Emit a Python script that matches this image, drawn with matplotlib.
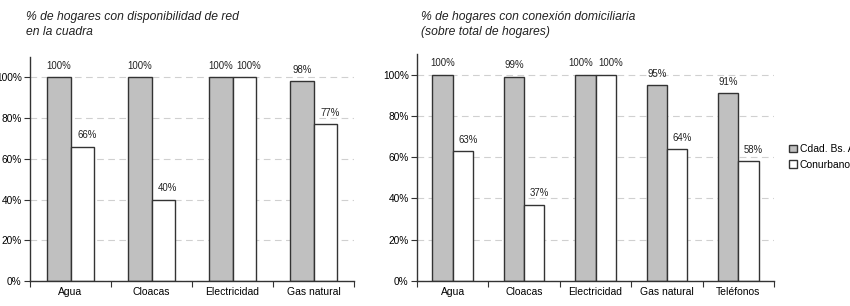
import numpy as np
import matplotlib.pyplot as plt

plt.rcParams['font.family'] = ['Liberation Sans', 'DejaVu Sans']

# data
cats_red = ['Agua', 'Cloacas', 'Electricidad', 'Gas natural']
caba_red = [100, 100, 100, 98]
conurb_red = [66, 40, 100, 77]

cats_con = ['Agua', 'Cloacas', 'Electricidad', 'Gas natural', 'Teléfonos']
caba_con = [100, 99, 100, 95, 91]
conurb_con = [63, 37, 100, 64, 58]

series_names = ['Cdad. Bs. As.', 'Conurbano']
title_red = '% de hogares con disponibilidad de red\nen la cuadra'
title_con = '% de hogares con conexión domiciliaria\n(sobre total de hogares)'

W, H = 850, 306
fig = plt.figure(figsize=(W / 100, H / 100), dpi=100)


def box(x0, x1, ytop, ybot):
    return [x0 / W, 1 - ybot / H, (x1 - x0) / W, (ybot - ytop) / H]


def draw(ax, cats, a, b, title, title_x, tight=False):
    x = np.arange(len(cats))
    w = 0.285
    bars_a = ax.bar(x - w / 2, a, w, color='#c0c0c0', edgecolor='#333333', linewidth=1.0)
    bars_b = ax.bar(x + w / 2, b, w, color='white', edgecolor='#333333', linewidth=1.0)
    for i in range(len(cats)):
        # push the labels apart when both bars are about the same height
        close = tight and abs(a[i] - b[i]) < 5
        ax.annotate('%d%%' % a[i], (x[i] - w / 2, a[i]), xytext=(-3.5 if close else 0, 4.5),
                    textcoords='offset points', ha='center', va='bottom', fontsize=6.9, color='#222222')
        ax.annotate('%d%%' % b[i], (x[i] + w / 2, b[i]), xytext=(3.5, 4.5),
                    textcoords='offset points', ha='center', va='bottom', fontsize=6.9, color='#222222')
    ax.set_xlim(-0.5, len(cats) - 0.5)
    ax.set_ylim(0, 110)
    ax.set_yticks(range(0, 101, 20))
    ax.set_yticklabels(['%d%%' % v for v in range(0, 101, 20)], fontsize=7.3)
    ax.set_xticks(np.arange(len(cats) + 1) - 0.5)
    ax.set_xticklabels([])
    ax.set_xticks(x, minor=True)
    ax.set_xticklabels(cats, minor=True, fontsize=7.5)
    ax.tick_params(axis='x', which='minor', length=0, pad=4)
    ax.tick_params(axis='x', which='major', length=4, width=0.8, color='#333333')
    ax.tick_params(axis='y', length=4, width=0.8, color='#333333', pad=2)
    for s in ['top', 'right']:
        ax.spines[s].set_visible(False)
    for s in ['left', 'bottom']:
        ax.spines[s].set_color('#333333')
        ax.spines[s].set_linewidth(1.0)
    ax.yaxis.grid(True, linestyle=(0, (6, 4)), color='#d0d0d0', linewidth=0.8)
    ax.set_axisbelow(True)
    fig.text(title_x / W, 1 - 11 / H, title, ha='left', va='top', fontsize=8.7,
             style='italic', color='#222222', linespacing=1.3)
    return bars_a, bars_b


ax1 = fig.add_axes(box(30, 354, 57, 281))
draw(ax1, cats_red, caba_red, conurb_red, title_red, 26)

ax2 = fig.add_axes(box(417, 774, 54, 281))
ba, bb = draw(ax2, cats_con, caba_con, conurb_con, title_con, 421, tight=True)

fig.legend([ba, bb], series_names, loc='center left', bbox_to_anchor=(785 / W, 1 - 157 / H),
           frameon=False, fontsize=7.5, handlelength=0.75, handleheight=0.75,
           handletextpad=0.25, labelspacing=0.55, borderaxespad=0)

fig.savefig('out.png', dpi=100)
